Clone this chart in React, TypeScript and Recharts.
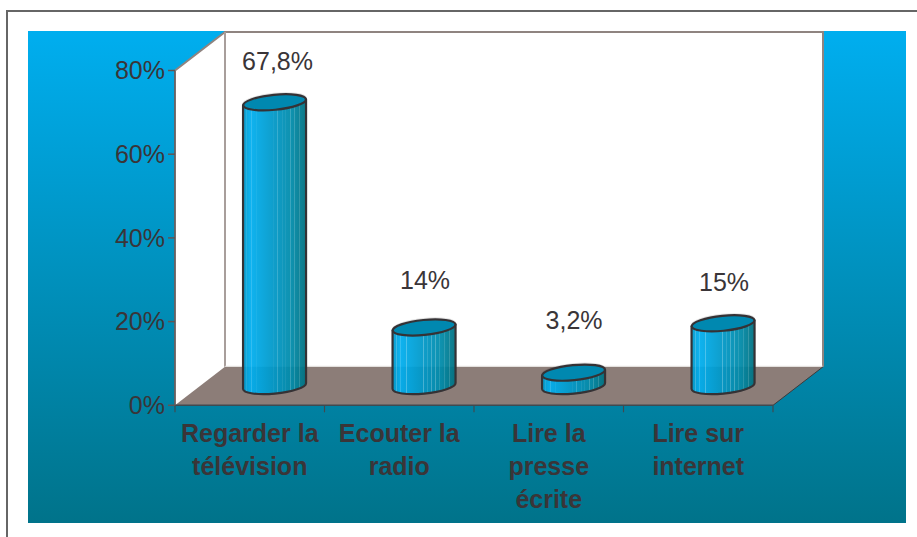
import React from "react";
import { BarChart, Bar, XAxis, YAxis, LabelList, usePlotArea } from "recharts";

const categories = ["Regarder la\ntélévision", "Ecouter la\nradio", "Lire la\npresse\nécrite", "Lire sur\ninternet"];
const shares = [67.8, 14, 3.2, 15];
const shareLabels = ["67,8%", "14%", "3,2%", "15%"];
const yTicks = [0, 20, 40, 60, 80];

const labelGaps = [32, 38, 44, 32];
const labelNudges = [3, 1, 0.5, 1];
const stripes = [0.06, 0.13, 0.22, 0.49, 0.55, 0.62, 0.68, 0.75, 0.82, 0.9];

const FONT = "'Liberation Sans', Arial, sans-serif";
const TEXT = "#3a3538";
const DX = 50;
const DY = 38.5;
const TILT = -5.6;
const MINOR = 7.5;
const SKEW = 3;

const data = categories.map((name, i) => ({ name, share: shares[i], label: shareLabels[i] }));

function Room() {
  const p = usePlotArea();
  if (!p) return null;
  const l = p.x, r = p.x + p.width, t = p.y, b = p.y + p.height;
  const boundaries = categories.map((_, i) => l + (i * p.width) / categories.length).concat(r);
  return (
    <g>
      <defs>
        <linearGradient id="body" x1="0" x2="1" y1="0" y2="0">
          <stop offset="0" stopColor="#0098c8" />
          <stop offset="0.12" stopColor="#00aeef" />
          <stop offset="0.5" stopColor="#0097c6" />
          <stop offset="0.78" stopColor="#008aa8" />
          <stop offset="1" stopColor="#00707f" />
        </linearGradient>
        <linearGradient id="stripes" x1="0" x2="1" y1="0" y2="0">
          {stripes.flatMap((s) => [
            <stop key={s + "a"} offset={s - 0.008} stopColor="#fff" stopOpacity="0" />,
            <stop key={s + "b"} offset={s} stopColor="#fff" stopOpacity="0.3" />,
            <stop key={s + "c"} offset={s + 0.008} stopColor="#fff" stopOpacity="0" />,
          ])}
        </linearGradient>
      </defs>
      <polygon points={`${l},${t} ${l + DX},${t - DY} ${r + DX},${t - DY} ${r + DX},${b - DY} ${l},${b}`} fill="#fff" />
      <path d={`M${l},${t} L${l + DX},${t - DY} L${r + DX},${t - DY} L${r + DX},${b - DY}`} fill="none" stroke="#8f8480" strokeWidth={2} />
      <line x1={l + DX} x2={l + DX} y1={t - DY} y2={b - DY} stroke="#a89e9b" strokeWidth={2} />
      <polygon points={`${l},${b} ${l + DX},${b - DY} ${r + DX},${b - DY} ${r},${b}`} fill="#8c7d78" />
      <line x1={l + DX} x2={r + DX} y1={b - DY} y2={b - DY} stroke="#e4e0de" strokeWidth={1} transform="translate(0,-0.5)" />
      <line x1={r} x2={r + DX} y1={b} y2={b - DY} stroke="#3f3a3a" strokeWidth={1} />
      {boundaries.map((x) => (
        <line key={x} x1={x} x2={x} y1={b} y2={b + 7} stroke="#3f4a50" strokeWidth={1.2} />
      ))}
    </g>
  );
}

function Cylinder(props: any) {
  const { x, y, width, height } = props;
  const cx = x + width / 2 + DX / 2;
  const top = y - DY / 2;
  const bot = y + height - DY / 2;
  const a = width / 2;
  const xl = cx - a;
  const xr = cx + a;
  const side = `M${xl},${top + SKEW} L${xl},${bot + SKEW} A${a} ${MINOR} ${TILT} 0 0 ${xr},${bot - SKEW} L${xr},${top - SKEW} Z`;
  const cap = { cx, cy: top, rx: a, ry: MINOR, transform: `rotate(${TILT} ${cx} ${top})` };
  return (
    <g>
      <ellipse {...cap} fill="none" stroke="#000" strokeOpacity={0.12} strokeWidth={2} transform={`translate(0,-1) rotate(${TILT} ${cx} ${top})`} />
      <path d={side} fill="url(#body)" fillOpacity={0.94} />
      <path d={side} fill="url(#stripes)" />
      <path d={side} fill="none" stroke="#353235" strokeWidth={2.2} strokeLinejoin="round" />
      <ellipse {...cap} fill="#0088b0" stroke="#353235" strokeWidth={2.2} />
    </g>
  );
}

function CategoryTick(props: any) {
  const { x, payload } = props;
  const lines = String(payload.value).split("\n");
  return (
    <text textAnchor="middle" fontFamily={FONT} fontSize={25} fontWeight="bold" fill={TEXT}>
      {lines.map((line, i) => (
        <tspan key={line} x={x} y={441.7 + i * 33}>
          {line}
        </tspan>
      ))}
    </text>
  );
}

function ShareLabel(props: any) {
  const { x, y, width, index } = props;
  return (
    <text
      x={x + width / 2 + DX / 2 + labelNudges[index]}
      y={y - DY / 2 - labelGaps[index]}
      textAnchor="middle"
      fontFamily={FONT}
      fontSize={25}
      fill={TEXT}
    >
      {shareLabels[index]}
    </text>
  );
}

export default function App() {
  return (
    <div style={{ position: "absolute", left: 0, top: 0, width: 917, height: 537, overflow: "hidden", background: "#fff" }}>
      <div style={{ position: "absolute", left: 6, top: 10, width: 911, height: 527, borderTop: "2px solid #666", borderLeft: "2px solid #666", boxSizing: "border-box" }} />
      <div style={{ position: "absolute", left: 28, top: 31, width: 878, height: 492, background: "linear-gradient(#00aeef, #00738a)" }} />
      <div style={{ position: "absolute", left: 0, top: 0 }}>
        <BarChart
          width={917}
          height={537}
          data={data}
          margin={{ top: 70.5, right: 144, left: 115, bottom: 71.7 }}
          barCategoryGap="28.8%"
          style={{ background: "transparent" }}
        >
          <Room />
          <XAxis dataKey="name" height={60} interval={0} tick={<CategoryTick />} tickLine={false} axisLine={{ stroke: "#3f4a50", strokeWidth: 1.5 }} />
          <YAxis
            width={60}
            domain={[0, 80]}
            ticks={yTicks}
            interval={0}
            tickFormatter={(v: number) => `${v}%`}
            tickSize={7}
            tickMargin={3}
            tick={{ fontFamily: FONT, fontSize: 25, fill: TEXT }}
            tickLine={{ stroke: "#5f5555", strokeWidth: 1.5 }}
            axisLine={{ stroke: "#6a5f5f", strokeWidth: 1.8 }}
          />
          <Bar dataKey="share" isAnimationActive={false} shape={<Cylinder />}>
            <LabelList dataKey="label" content={<ShareLabel />} />
          </Bar>
        </BarChart>
      </div>
    </div>
  );
}
